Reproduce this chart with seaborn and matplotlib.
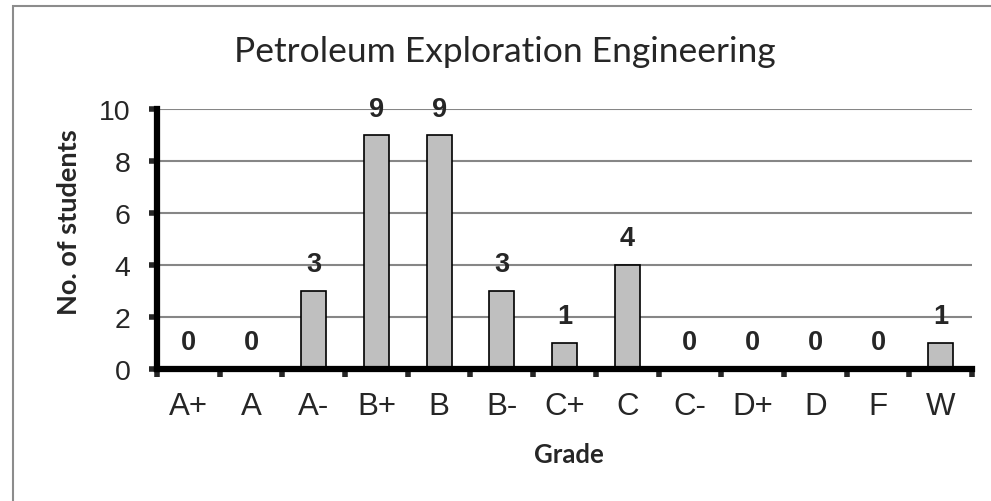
import matplotlib
matplotlib.use("Agg")
import matplotlib.pyplot as plt
import numpy as np
import pandas as pd
import seaborn as sns
from matplotlib.patches import Rectangle

# data
grades = ["A+", "A", "A-", "B+", "B", "B-", "C+", "C", "C-", "D+", "D", "F", "W"]
students = [0, 0, 3, 9, 9, 3, 1, 4, 0, 0, 0, 0, 1]
title = "Petroleum Exploration Engineering"

df = pd.DataFrame({"Grade": grades, "Students": students})

sns.set_style("white")
plt.rcParams["font.family"] = ["Liberation Sans", "DejaVu Sans"]

fig = plt.figure(figsize=(9.91, 5.02), dpi=100)
ax = fig.add_axes([157 / 991, 1 - 370 / 502, (972 - 157) / 991, 260 / 502])

sns.barplot(data=df, x="Grade", y="Students", color="#bfbfbf", width=0.4,
            edgecolor="black", linewidth=1.2, saturation=1, ax=ax, zorder=3)

ax.set_xlim(-0.5, len(grades) - 0.5)
ax.set_ylim(0, 10)
ax.set_yticks(np.arange(0, 11, 2))
ax.set_xticks(np.arange(-0.5, len(grades), 1), minor=True)

ax.yaxis.grid(True, color="#868686", linewidth=1.5, zorder=0)
ax.set_axisbelow(True)

for side in ["top", "right"]:
    ax.spines[side].set_visible(False)
for side in ["left", "bottom"]:
    ax.spines[side].set_linewidth(4.5)
    ax.spines[side].set_color("black")
    ax.spines[side].set_zorder(5)

ax.tick_params(axis="y", which="major", direction="out", length=6, width=4,
               labelsize=20.5, pad=13, left=True)
ax.tick_params(axis="x", which="major", length=0, labelsize=22.5, pad=16)
ax.tick_params(axis="x", which="minor", direction="out", length=6, width=4, bottom=True)

# value labels above the bars, kept inside the plot area
for i, v in enumerate(students):
    ax.text(i, min(v + 1.05, 10), str(v), ha="center", va="center",
            fontsize=19.5, fontweight="bold", zorder=6)

ax.set_xlabel("")
ax.set_ylabel("")
fig.text(569 / 991, 1 - 455 / 502, "Grade", ha="center", va="center",
         fontsize=18.5, fontweight="bold", family=["Lato", "DejaVu Sans"])
fig.text(69 / 991, 1 - 222 / 502, "No. of students", ha="center", va="center",
         rotation=90, fontsize=19.5, fontweight="bold", family=["Lato", "DejaVu Sans"])
fig.text(505 / 991, 1 - 52 / 502, title, ha="center", va="center",
         fontsize=25.5, family=["Lato", "DejaVu Sans"])

# chart frame
fig.patches.append(Rectangle((13 / 991, -0.05), 1.1, 1 - 7 / 502 + 0.05,
                             transform=fig.transFigure, fill=False,
                             edgecolor="#8c8c8c", linewidth=1.5))

fig.savefig("out.png", dpi=100)
